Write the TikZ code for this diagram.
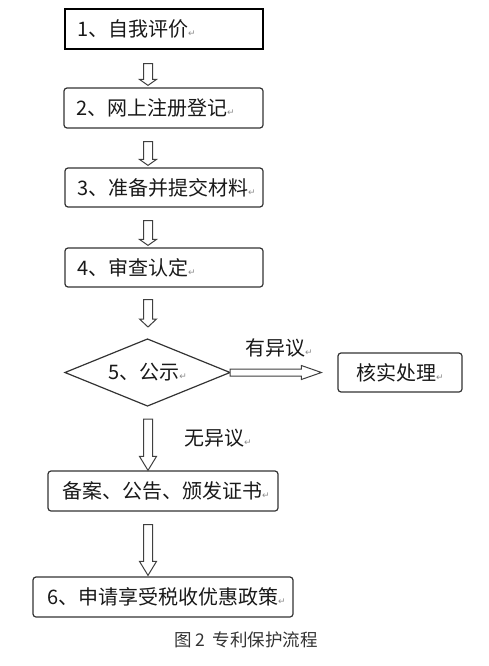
\documentclass[tikz,border=0pt]{standalone}
\usepackage{fontspec}
\setmainfont{Noto Sans CJK SC}
\newfontfamily\dejavu{DejaVu Sans}
\usetikzlibrary{shapes.geometric,calc}
\newcommand\retmark{{\fontsize{9}{9}\selectfont\dejavu\textcolor{black!45}{↵}}}
% vertical hollow arrow: #1 x, #2 from node, #3 to node, #4 top gap, #5 tip gap, #6 head length
\newcommand\varrow[6]{%
  \draw[harrow] let \p1=(#2.south), \p2=(#3.north) in
  (#1-4.5pt,\y1-#4) -- (#1+4.5pt,\y1-#4) -- (#1+4.5pt,\y2+#5+#6) -- (#1+8.5pt,\y2+#5+#6)
  -- (#1,\y2+#5) -- (#1-8.5pt,\y2+#5+#6) -- (#1-4.5pt,\y2+#5+#6) -- cycle;}
\begin{document}
\begin{tikzpicture}[x=1pt,y=-1pt,
  every node/.style={font=\fontsize{20}{23}\selectfont, text=black!90},
  box/.style={draw=black!80, line width=1.2pt, rounded corners=3pt, minimum height=40pt,
    align=left, inner xsep=12pt, inner ysep=0pt},
  harrow/.style={draw=black!75, line width=1pt, fill=white, line join=miter},
  lbl/.style={anchor=west, inner sep=0pt}]
\useasboundingbox (0,0) rectangle (489,666);
\node[box, draw=black, line width=1.4pt, rounded corners=0pt, text width=174pt, minimum height=40pt] (b1) at (164,29) {1、自我评价\retmark};
\node[box, text width=175pt] (b2) at (163.5,108) {2、网上注册登记\retmark};
\node[box, text width=174pt, minimum height=39pt] (b3) at (164,187.5) {3、准备并提交材料\retmark};
\node[box, text width=174pt, minimum height=39pt] (b4) at (164,267.5) {4、审查认定\retmark};
\node[draw=black!80, line width=1.2pt, diamond, aspect=2.5, minimum width=165pt, minimum height=67pt, inner sep=0pt, outer sep=0pt] (d) at (147.5,372.5) {5、公示\retmark};
\node[box, minimum height=39pt, minimum width=124pt, inner xsep=6pt] (b5) at (400,372.5) {核实处理\retmark};
\node[box, text width=202pt, inner xsep=14pt] (b6) at (163,491) {备案、公告、颁发证书\retmark};
\node[box, text width=232pt, inner xsep=14pt] (b7) at (163,597) {6、申请享受税收优惠政策\retmark};
\node[lbl] (l1) at (245,348) {有异议\retmark};
\node[lbl] (l2) at (184,438) {无异议\retmark};
\node[font=\fontsize{17.5}{20}\selectfont, text=black!80] (cap) at (246,640) {图 2\ \ 专利保护流程};
\varrow{148pt}{b1}{b2}{14pt}{2pt}{6pt}
\varrow{148pt}{b2}{b3}{13pt}{2pt}{6pt}
\varrow{148pt}{b3}{b4}{13pt}{2pt}{6pt}
\varrow{148pt}{b4}{d}{12pt}{12pt}{8pt}
\varrow{148pt}{d}{b6}{13pt}{0pt}{14pt}
\varrow{148pt}{b6}{b7}{13pt}{1pt}{14pt}
\draw[harrow] let \p1=(d.east), \p2=(b5.west) in
  (\x1,\y1+3.5pt) -- (\x2-36pt,\y1+3.5pt) -- (\x2-36pt,\y1+7pt) -- (\x2-16pt,\y1)
  -- (\x2-36pt,\y1-7pt) -- (\x2-36pt,\y1-3.5pt) -- (\x1,\y1-3.5pt) -- cycle;
\end{tikzpicture}
\end{document}
